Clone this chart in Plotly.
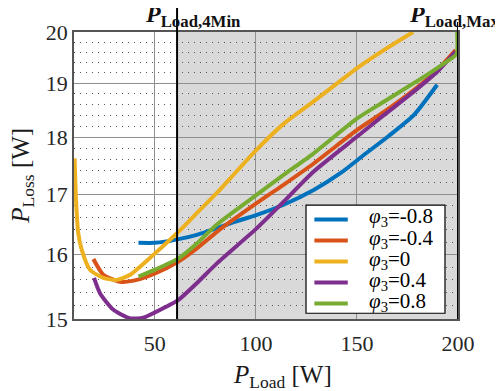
import plotly.graph_objects as go
import math

# ---- data ----
names = ["<i>φ</i><sub>3</sub>=-0.8", "<i>φ</i><sub>3</sub>=-0.4", "<i>φ</i><sub>3</sub>=0",
         "<i>φ</i><sub>3</sub>=0.4", "<i>φ</i><sub>3</sub>=0.8"]
colors = ["#0072BD", "#D95319", "#EDB120", "#7E2F8E", "#77AC30"]

x_m08 = [41.9, 50.1, 61.7, 70.8, 80.7, 87.3, 100.5, 113.7, 128.6, 141.8, 153.4, 165.7, 178.1, 189.7]
y_m08 = [16.19, 16.19, 16.25, 16.32, 16.43, 16.51, 16.65, 16.82, 17.07, 17.36, 17.68, 18.02, 18.40, 18.97]

x_m04 = [19.6, 24.5, 32.8, 41.1, 50.1, 61.7, 70.8, 80.7, 100.5, 113.7, 128.6, 150.1, 163.3, 178.1, 189.7, 198.8]
y_m04 = [15.93, 15.68, 15.57, 15.60, 15.70, 15.89, 16.10, 16.37, 16.85, 17.16, 17.53, 18.13, 18.46, 18.87, 19.25, 19.64]

x_0 = [10.3, 11.0, 12.1, 13.8, 17.9, 24.5, 31.2, 37.8, 50.1, 61.7, 70.8, 80.7, 87.3, 100.5, 113.7, 129.4, 150.1, 163.3, 177.8]
y_0 = [17.62, 16.90, 16.35, 16.08, 15.76, 15.63, 15.60, 15.68, 16.02, 16.37, 16.68, 17.02, 17.27, 17.78, 18.24, 18.68, 19.29, 19.64, 20.0]

x_p04 = [19.9, 22.9, 29.5, 37.8, 44.3, 50.1, 61.7, 70.8, 80.7, 100.5, 113.7, 128.6, 150.1, 163.3, 178.1, 189.7, 198.8]
y_p04 = [15.63, 15.39, 15.14, 15.01, 15.02, 15.10, 15.29, 15.55, 15.86, 16.43, 16.87, 17.39, 18.01, 18.40, 18.84, 19.22, 19.61]

x_p08 = [41.9, 50.1, 61.7, 70.8, 80.7, 100.5, 113.7, 128.6, 150.1, 163.3, 178.1, 189.7, 198.8, 199.6, 199.6]
y_p08 = [15.65, 15.76, 15.94, 16.18, 16.49, 16.99, 17.33, 17.71, 18.34, 18.65, 19.00, 19.29, 19.54, 19.60, 20.0]

series_x = [x_m08, x_m04, x_0, x_p04, x_p08]
series_y = [y_m08, y_m04, y_0, y_p04, y_p08]

x_ticks = [50, 100, 150, 200]
y_ticks = [15, 16, 17, 18, 19, 20]
y_minor = [v / 10 for v in range(150, 201, 2) if v % 10 != 0]

p_load_4min = 61
p_load_max = 200

FONT = "Liberation Serif"

fig = go.Figure()
for xs, ys, nm, c in zip(series_x, series_y, names, colors):
    fig.add_trace(go.Scatter(x=xs, y=ys, mode="lines", name=nm, showlegend=False,
                             line=dict(color=c, width=4, shape="spline", smoothing=0.6)))

# shaded operating region
fig.add_shape(type="rect", xref="x", yref="paper", x0=p_load_4min, x1=p_load_max, y0=0, y1=1,
              fillcolor="#d9d9d9", line=dict(width=0), layer="below")
# vertical marker lines
fig.add_shape(type="line", xref="x", yref="paper", x0=p_load_4min, x1=p_load_4min, y0=0, y1=1.087,
              line=dict(color="black", width=2))
fig.add_shape(type="line", xref="x", yref="paper", x0=p_load_max, x1=p_load_max, y0=0, y1=1.035,
              line=dict(color="black", width=2))

fig.add_annotation(x=p_load_4min, y=1, xref="x", yref="paper", xanchor="left", yanchor="bottom",
                   xshift=-34, yshift=-1, showarrow=False,
                   text="<b><i>P</i><sub>Load,4Min</sub></b>",
                   font=dict(family=FONT, size=24, color="#111"))
fig.add_annotation(x=p_load_max, y=1, xref="x", yref="paper", xanchor="left", yanchor="bottom",
                   xshift=-51, yshift=-1, showarrow=False,
                   text="<b><i>P</i><sub>Load,Max</sub></b>",
                   font=dict(family=FONT, size=24, color="#111"))

# axis titles
fig.add_annotation(x=0.544, y=-0.202, xref="paper", yref="paper", xanchor="center", yanchor="middle",
                   showarrow=False, text="<i>P</i><sub>Load</sub> [W]",
                   font=dict(family=FONT, size=25, color="#1a1a1a"))
fig.add_annotation(x=-0.135, y=0.5, xref="paper", yref="paper", xanchor="center", yanchor="middle",
                   textangle=-90, showarrow=False, text="<i>P</i><sub>Loss</sub> [W]",
                   font=dict(family=FONT, size=25, color="#1a1a1a"))

# legend box (drawn with shapes + text so its spacing matches the reference)
LEG_X0, LEG_X1, LEG_Y0, LEG_Y1 = 0.6042, 0.9661, 0.020, 0.397
ROW_TOP, ROW_STEP = 0.3467, 0.0732
fig.add_shape(type="rect", xref="paper", yref="paper", x0=LEG_X0, x1=LEG_X1, y0=LEG_Y0, y1=LEG_Y1,
              fillcolor="white", line=dict(color="black", width=1.2), layer="above")
for i, (nm, c) in enumerate(zip(names, colors)):
    yy = ROW_TOP - i * ROW_STEP
    fig.add_shape(type="line", xref="paper", yref="paper", x0=0.626, x1=0.713, y0=yy, y1=yy,
                  line=dict(color=c, width=4), layer="above")
    fig.add_annotation(x=0.763, y=yy, xref="paper", yref="paper", xanchor="left", yanchor="middle",
                       yshift=2, showarrow=False, text=nm,
                       font=dict(family=FONT, size=21, color="black"))

fig.update_layout(
    width=503, height=391,
    margin=dict(l=66, r=53, t=24, b=80, autoexpand=False),
    paper_bgcolor="white", plot_bgcolor="white",
    font=dict(family=FONT, size=22, color="#262626"),
    showlegend=False,
)
fig.update_xaxes(range=[10, 200], tickvals=x_ticks, ticktext=[str(v) for v in x_ticks],
                 showgrid=True, gridcolor="#8f8f8f", gridwidth=1,
                 showline=True, linecolor="#555", linewidth=1.5, mirror=True,
                 ticks="", zeroline=False, automargin=False, ticklabelstandoff=4)
fig.update_yaxes(type="log", range=[math.log10(15), math.log10(20)],
                 tickvals=y_ticks, ticktext=[str(v) for v in y_ticks],
                 showgrid=True, gridcolor="#8f8f8f", gridwidth=1,
                 showline=True, linecolor="#555", linewidth=1.5, mirror=True,
                 ticks="", zeroline=False, automargin=False,
                 minor=dict(tickvals=y_minor, showgrid=True, gridcolor="#555",
                            griddash="1px,5px", gridwidth=1))

fig.write_html("out.html")
